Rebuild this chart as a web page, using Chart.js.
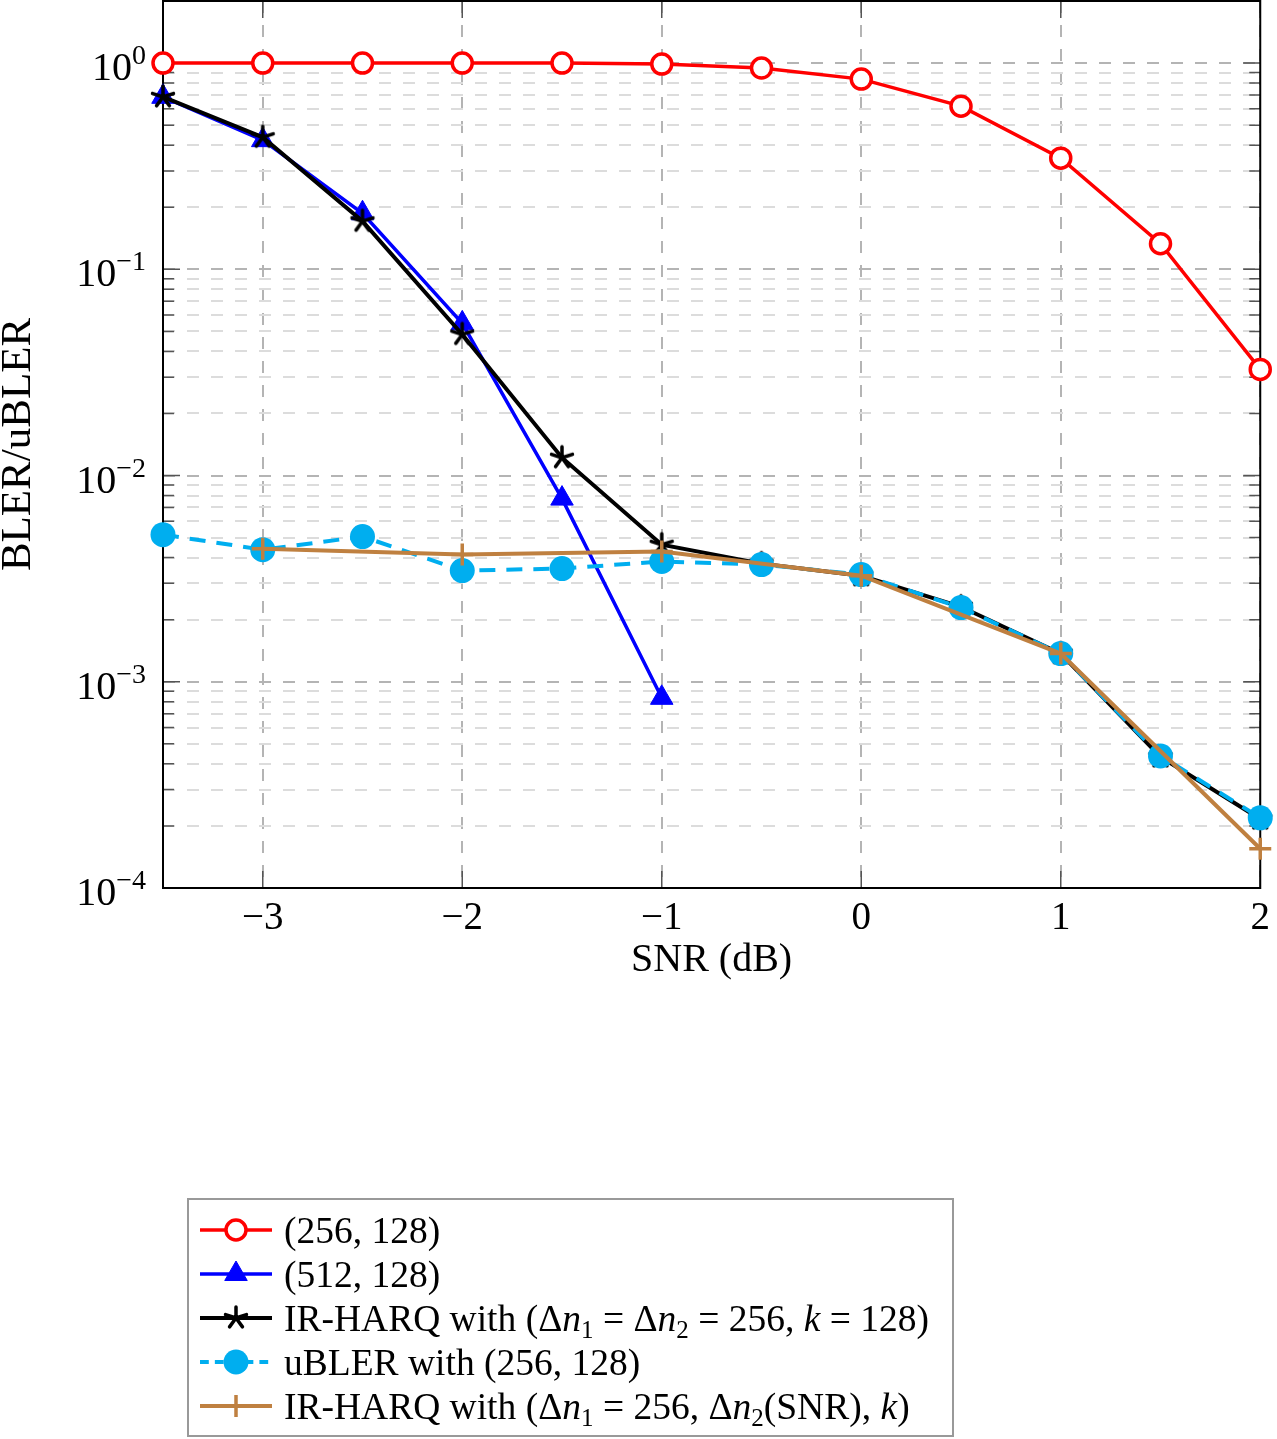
<!DOCTYPE html>
<html>
<head>
<meta charset="utf-8">
<script src="https://cdn.jsdelivr.net/npm/chart.js@4.4.0/dist/chart.umd.min.js"></script>
<style>
  html, body { margin: 0; padding: 0; background: #fff; }
  #wrap { position: relative; width: 1277px; height: 1439px; }
  #legend {
    position: absolute; left: 187px; top: 1198px; width: 767px; height: 239px;
    box-sizing: border-box; border: 2px solid #999; padding-top: 8px;
    font-family: "Liberation Serif", serif; font-size: 37.5px; color: #000;
  }
  #legend .row { display: flex; align-items: center; height: 44px; white-space: nowrap; }
  #legend canvas { margin-left: 11px; margin-right: 12px; }
  #legend sub { font-size: 25px; vertical-align: -7px; line-height: 0; }
</style>
</head>
<body>
<div id="wrap">
  <canvas id="chart" width="1277" height="1439"></canvas>
  <div id="legend"></div>
</div>
<script>
// SNR grid (dB)
const snr = [-3.5, -3, -2.5, -2, -1.5, -1, -0.5, 0, 0.5, 1, 1.5, 2];
// values
const bler256 = [1.0, 1.0, 1.0, 1.0, 1.0, 0.989, 0.946, 0.836, 0.618, 0.346, 0.133, 0.0327];
const bler512 = [0.686, 0.423, 0.187, 0.0547, 0.00773, 0.000836, null, null, null, null, null, null];
const irHarq = [0.686, 0.437, 0.171, 0.0483, 0.0122, 0.00462, 0.00374, 0.00327, 0.00231, 0.00137, 0.000432, 0.000216];
const ublerRef = [0.00517, 0.00437, 0.00506, 0.00346, 0.00354, 0.00383, 0.00370, 0.00331, 0.00229, 0.00137, 0.000437, 0.000219];
const irHarqAdapt = [null, 0.00442, null, 0.00414, null, 0.00428, null, 0.00327, null, 0.00137, null, 0.000155];

const xTicks = [-3, -2, -1, 0, 1, 2];
const yDecades = [-4, -3, -2, -1, 0];

const labels = [
  '(256, 128)',
  '(512, 128)',
  'IR-HARQ with (Δn₁ = Δn₂ = 256, k = 128)',
  'uBLER with (256, 128)',
  'IR-HARQ with (Δn₁ = 256, Δn₂(SNR), k)'
];

const serif = '"Liberation Serif", "Times New Roman", serif';

function pts(arr) {
  return snr.map((x, i) => ({ x: x, y: arr[i] }));
}

// pgfplots style 5-arm star mark
function makeStar() {
  const c = document.createElement('canvas');
  c.width = 28; c.height = 28;
  const g = c.getContext('2d');
  g.strokeStyle = '#000';
  g.lineWidth = 3.5;
  g.lineCap = 'round';
  g.beginPath();
  for (let k = 0; k < 5; k++) {
    const a = -Math.PI / 2 + k * 2 * Math.PI / 5;
    g.moveTo(14, 14);
    g.lineTo(14 + 11 * Math.cos(a), 14 + 11 * Math.sin(a));
  }
  g.stroke();
  return c;
}
const starMark = makeStar();

function isDecade(v) {
  const l = Math.log10(v);
  return Math.abs(l - Math.round(l)) < 1e-6;
}

// frame + inner tick marks (drawn under the data like pgfplots)
const framePlugin = {
  id: 'frame',
  beforeDatasetsDraw(chart) {
    const { ctx, chartArea: a, scales } = chart;
    ctx.save();
    ctx.strokeStyle = '#555';
    ctx.lineWidth = 1.5;
    ctx.beginPath();
    scales.y.ticks.forEach(t => {
      const y = scales.y.getPixelForValue(t.value);
      const len = isDecade(t.value) ? 17 : 11;
      ctx.moveTo(a.left, y); ctx.lineTo(a.left + len, y);
      ctx.moveTo(a.right, y); ctx.lineTo(a.right - len, y);
    });
    scales.x.ticks.forEach(t => {
      const x = scales.x.getPixelForValue(t.value);
      ctx.moveTo(x, a.bottom); ctx.lineTo(x, a.bottom - 17);
      ctx.moveTo(x, a.top); ctx.lineTo(x, a.top + 17);
    });
    ctx.stroke();
    ctx.strokeStyle = '#000';
    ctx.lineWidth = 2;
    ctx.strokeRect(a.left, a.top, a.right - a.left, a.bottom - a.top);
    ctx.restore();
  },
  afterDraw(chart) {
    // 10^k labels on the y axis
    const { ctx, scales } = chart;
    ctx.save();
    ctx.fillStyle = '#000';
    ctx.textBaseline = 'alphabetic';
    yDecades.forEach(e => {
      const y = scales.y.getPixelForValue(Math.pow(10, e));
      const exp = e < 0 ? '\u2212' + Math.abs(e) : String(e);
      ctx.font = '28px ' + serif;
      ctx.textAlign = 'right';
      ctx.fillText(exp, 146, y + 1);
      const w = ctx.measureText(exp).width;
      ctx.font = '40px ' + serif;
      ctx.fillText('10', 146 - w, y + 17);
    });
    ctx.restore();
  }
};

const ctx = document.getElementById('chart').getContext('2d');
const chart = new Chart(ctx, {
  type: 'line',
  data: {
    datasets: [
      {
        label: labels[0], data: pts(bler256), order: 5,
        borderColor: '#ff0000', borderWidth: 3.5,
        pointStyle: 'circle', pointRadius: 10, pointBorderWidth: 3.5,
        pointBorderColor: '#ff0000', pointBackgroundColor: '#ffffff'
      },
      {
        label: labels[1], data: pts(bler512), order: 4,
        borderColor: '#0000ff', borderWidth: 3.5,
        pointStyle: 'triangle', pointRadius: 13, pointBorderWidth: 1,
        pointBorderColor: '#0000ff', pointBackgroundColor: '#0000ff'
      },
      {
        label: labels[2], data: pts(irHarq), order: 3,
        borderColor: '#000000', borderWidth: 4,
        pointStyle: starMark, pointRadius: 11,
        pointBorderColor: '#000000', pointBackgroundColor: '#000000'
      },
      {
        label: labels[3], data: pts(ublerRef), order: 2,
        borderColor: '#00aeef', borderWidth: 4, borderDash: [16, 11],
        pointStyle: 'circle', pointRadius: 12.5, pointBorderWidth: 0,
        pointBorderColor: '#00aeef', pointBackgroundColor: '#00aeef'
      },
      {
        label: labels[4], data: pts(irHarqAdapt), order: 1, spanGaps: true,
        borderColor: '#bf8040', borderWidth: 4,
        pointStyle: 'cross', pointRadius: 11, pointBorderWidth: 3.5,
        pointBorderColor: '#bf8040', pointBackgroundColor: '#bf8040'
      }
    ]
  },
  options: {
    responsive: false,
    animation: false,
    clip: false,
    layout: { autoPadding: false, padding: { left: 0, right: 11, top: 1, bottom: 431 } },
    plugins: { legend: { display: false }, tooltip: { enabled: false } },
    elements: { line: { tension: 0 } },
    scales: {
      x: {
        type: 'linear', min: -3.5, max: 2,
        afterBuildTicks: s => { s.ticks = xTicks.map(v => ({ value: v })); },
        afterFit: s => { s.height = 120; },
        ticks: {
          color: '#000', padding: 7,
          font: { family: serif, size: 39 },
          callback: v => (v < 0 ? '\u2212' + Math.abs(v) : String(v))
        },
        grid: { color: '#b4b4b4', lineWidth: 2, drawTicks: false },
        border: { display: false, dash: [12, 12] },
        title: {
          display: true, text: 'SNR (dB)', color: '#000',
          font: { family: serif, size: 40 }, padding: { top: 0, bottom: 24 }
        }
      },
      y: {
        type: 'logarithmic', min: 1e-4, max: 2,
        afterBuildTicks: s => {
          const t = [];
          yDecades.forEach(e => {
            for (let m = 1; m <= 9; m++) {
              const v = m * Math.pow(10, e);
              if (v <= 1.0001) t.push({ value: v });
            }
          });
          s.ticks = t;
        },
        afterFit: s => { s.width = 163; },
        ticks: { display: false },
        grid: {
          drawTicks: false, lineWidth: 2,
          color: c => (c.tick && isDecade(c.tick.value) ? '#b4b4b4' : '#dcdcdc')
        },
        border: { display: false, dash: [12, 12] },
        title: {
          display: true, text: 'BLER/uBLER', color: '#000',
          font: { family: serif, size: 43, lineHeight: 0.85 }, padding: 0
        }
      }
    }
  },
  plugins: [framePlugin]
});

// legend, built from the chart datasets
function fmt(s) {
  return s.replace(/Δn([₁₂])/g, (m, d) => 'Δ<i>n</i><sub>' + (d === '₁' ? '1' : '2') + '</sub>')
          .replace(/\bk\b/g, '<i>k</i>');
}
const legendEl = document.getElementById('legend');
chart.data.datasets.forEach(ds => {
  const row = document.createElement('div');
  row.className = 'row';
  const sw = document.createElement('canvas');
  sw.width = 72; sw.height = 44;
  const g = sw.getContext('2d');
  g.strokeStyle = ds.borderColor;
  g.lineWidth = ds.borderWidth;
  if (ds.borderDash) g.setLineDash(ds.borderDash.map(d => d * 0.55));
  g.beginPath(); g.moveTo(0, 22); g.lineTo(72, 22); g.stroke();
  g.setLineDash([]);
  g.fillStyle = ds.pointBackgroundColor;
  g.strokeStyle = ds.pointBorderColor;
  g.lineWidth = ds.pointBorderWidth || 0;
  Chart.helpers.drawPoint(g, {
    pointStyle: ds.pointStyle, rotation: 0,
    radius: ds.pointRadius, borderWidth: ds.pointBorderWidth || 0
  }, 36, 22);
  row.appendChild(sw);
  const txt = document.createElement('span');
  txt.innerHTML = fmt(ds.label);
  row.appendChild(txt);
  legendEl.appendChild(row);
});
</script>
</body>
</html>
